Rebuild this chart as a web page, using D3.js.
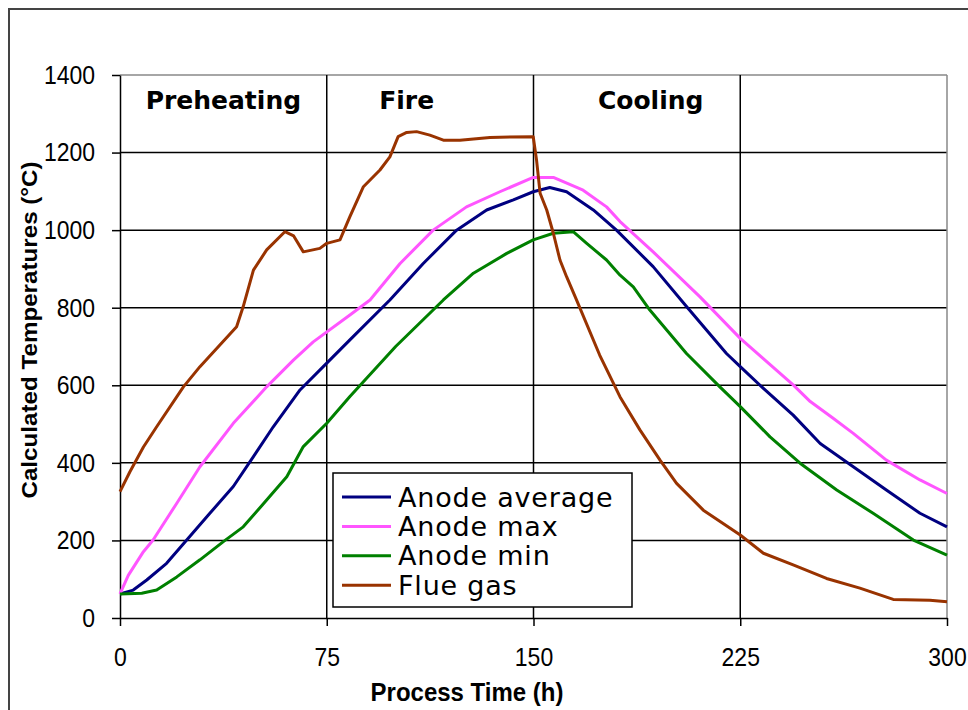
<!DOCTYPE html>
<html>
<head>
<meta charset="utf-8">
<title>Calculated anode temperatures</title>
<script src="https://d3js.org/d3.v7.min.js"></script>
<style>
  body { margin: 0; background: #fff; }
  svg text { fill: #000; }
</style>
</head>
<body>
<svg id="chart" width="968" height="710"></svg>
<script>
// values: [process time (h), temperature (°C)]
var anodeAvg = [[0,62],[4.8,72],[9.7,98],[16.9,141],[24.2,201],[32.6,270],[41.1,339],[48.4,416],[55.6,493],[65.3,588],[75,657],[83.4,717],[97.9,820],[110,914],[122.1,1000],[133,1052],[142.7,1078],[149.9,1099],[155.9,1110],[162,1099],[171.7,1052],[180.1,1000],[193.4,906],[205.5,803],[220,682],[225,648],[233.4,592],[244.2,523],[254,450],[266,390],[278,330],[290.2,270],[300,235]]
var anodeMax = [[0,62],[3,110],[8.5,171],[12,201],[20.6,296],[29,390],[41.1,502],[53.2,596],[62.9,665],[70.1,712],[83.4,781],[90.7,820],[101.6,914],[113.6,1000],[125.7,1060],[137.8,1099],[149.9,1136],[157.2,1136],[168,1103],[176.5,1060],[181.4,1022],[193.4,944],[210.4,828],[225,721],[244.2,601],[250.4,558],[258.7,515],[266,476],[278,407],[290.2,356],[300,321]]
var anodeMin = [[0,62],[7.9,64],[13.3,72],[20.6,106],[29,150],[37.5,197],[44.7,235],[53.2,304],[60.5,364],[66.5,442],[75,502],[83.4,571],[100,700],[117.3,820],[128.2,889],[140.3,940],[149.9,975],[157.2,992],[164.4,996],[169.3,966],[176.5,923],[181.4,884],[186.2,854],[192.2,794],[205.5,682],[217.6,596],[225,545],[235.8,467],[246.7,399],[260,330],[273.2,270],[287.8,201],[300,162]]
var flueGas = [[0,326],[3.6,377],[8.5,441],[13.3,493],[23,596],[29,648],[42.3,751],[44.7,803],[48.4,897],[53.2,949],[59.8,996],[63,985],[66.5,944],[72.5,953],[75,966],[79.8,975],[83.4,1035],[88.3,1112],[94.3,1155],[97.9,1189],[100.9,1241],[104,1252],[107.6,1254],[112.4,1245],[117.3,1232],[123.3,1232],[134.2,1239],[149.9,1241],[151.1,1181],[152.4,1095],[154.8,1052],[157.2,992],[159.6,923],[162,880],[165.6,820],[174,678],[181.4,570],[188.6,485],[195.9,407],[201.9,347],[211.6,278],[225,214],[233.4,167],[244.2,137],[256.3,102],[268.4,77],[280.5,48],[293.8,46],[300,42]]

var seriesNames = ["Anode average", "Anode max", "Anode min", "Flue gas"]
var seriesColors = ["#000080", "#ff55ff", "#008000", "#993300"]

var xTicks = [0, 75, 150, 225, 300]
var yTicks = [0, 200, 400, 600, 800, 1000, 1200, 1400]

var phaseNames = ["Preheating", "Fire", "Cooling"]
var phaseAt = [37.5, 104, 192.5]   // where the phase labels sit on the time axis

// plot box (note: "top" is taken by window.top, so prefix these)
var plotLeft = 120, plotRight = 947, plotTop = 75, plotBottom = 618
var stretch = 1.1   // the original text is drawn a bit taller than wide

var svg = d3.select("#chart")

// outer frame of the chart
svg.append("rect")
    .attr("x", 9).attr("y", 9)
    .attr("width", 1000).attr("height", 1000)
    .attr("fill", "none")
    .attr("stroke", "#444")
    .attr("stroke-width", 2)

var x = d3.scaleLinear().domain([0, 300]).range([plotLeft, plotRight])
var y = d3.scaleLinear().domain([0, 1400]).range([plotBottom, plotTop])

// gridlines
var grid = svg.append("g")
grid.selectAll(".hg")
  .data(yTicks.slice(1))
  .enter().append("line")
    .attr("x1", plotLeft).attr("x2", plotRight)
    .attr("y1", d => y(d)).attr("y2", d => y(d))
    .attr("stroke", d => d == 1400 ? "#888" : "#000")
    .attr("stroke-width", 1.5)
grid.selectAll(".vg")
  .data(xTicks.slice(1))
  .enter().append("line")
    .attr("x1", d => x(d)).attr("x2", d => x(d))
    .attr("y1", plotTop).attr("y2", plotBottom)
    .attr("stroke", d => d == 300 ? "#888" : "#000")
    .attr("stroke-width", 1.5)

// axes
var yAxis = svg.append("g")
    .attr("transform", "translate(" + plotLeft + ",0)")
    .call(d3.axisLeft(y).tickValues(yTicks).tickFormat(d3.format("d")).tickSize(8).tickPadding(17).tickSizeOuter(0))
var xAxis = svg.append("g")
    .attr("transform", "translate(0," + plotBottom + ")")
    .call(d3.axisBottom(x).tickValues(xTicks).tickFormat(d3.format("d")).tickSize(8).tickSizeOuter(0))

svg.selectAll(".domain, .tick line")
    .attr("stroke", "#000")
    .attr("stroke-width", 1.5)
svg.selectAll(".tick text")
    .attr("font-family", "Liberation Sans, Arial, sans-serif")
    .attr("font-size", 23)
    .attr("fill", "#111")
    .attr("dy", 0)
    .attr("transform", "scale(1," + stretch + ")")
yAxis.selectAll(".tick text").attr("y", 7.6)
xAxis.selectAll(".tick text").attr("y", 43.5)

// axis titles
svg.append("text")
    .attr("transform", "translate(467,701) scale(1," + stretch + ")")
    .attr("text-anchor", "middle")
    .attr("font-family", "Liberation Sans, Arial, sans-serif")
    .attr("font-weight", "bold")
    .attr("font-size", 24)
    .text("Process Time (h)")

svg.append("text")
    .attr("transform", "translate(37,330) rotate(-90) scale(" + stretch + ",1)")
    .attr("text-anchor", "middle")
    .attr("font-family", "Liberation Sans, Arial, sans-serif")
    .attr("font-weight", "bold")
    .attr("font-size", 22)
    .text("Calculated Temperatures (°C)")

// phase labels
svg.selectAll(".phase")
  .data(phaseNames)
  .enter().append("text")
    .attr("x", (d, i) => x(phaseAt[i]))
    .attr("y", 109)
    .attr("text-anchor", "middle")
    .attr("font-family", "DejaVu Sans, Verdana, sans-serif")
    .attr("font-weight", "bold")
    .attr("font-size", 25)
    .text(d => d)

// temperature curves
var line = d3.line()
    .x(d => x(d[0]))
    .y(d => y(d[1]))

var allSeries = [anodeAvg, anodeMax, anodeMin, flueGas]
svg.selectAll(".curve")
  .data(allSeries)
  .enter().append("path")
    .attr("d", line)
    .attr("fill", "none")
    .attr("stroke", (d, i) => seriesColors[i])
    .attr("stroke-width", 3)
    .attr("stroke-linejoin", "round")

// legend
var legend = svg.append("g").attr("transform", "translate(333,473)")
legend.append("rect")
    .attr("width", 299).attr("height", 134)
    .attr("fill", "#fff")
    .attr("stroke", "#000")
    .attr("stroke-width", 1.5)
var rows = legend.selectAll(".row")
  .data(seriesNames)
  .enter().append("g")
    .attr("transform", (d, i) => "translate(0," + (24 + i * 29.4) + ")")
rows.append("line")
    .attr("x1", 9).attr("x2", 58)
    .attr("stroke", (d, i) => seriesColors[i])
    .attr("stroke-width", 3)
rows.append("text")
    .attr("x", 65)
    .attr("y", 9.5)
    .attr("font-family", "DejaVu Sans, Verdana, sans-serif")
    .attr("font-size", 27)
    .attr("letter-spacing", 0.8)
    .text(d => d)
</script>
</body>
</html>
